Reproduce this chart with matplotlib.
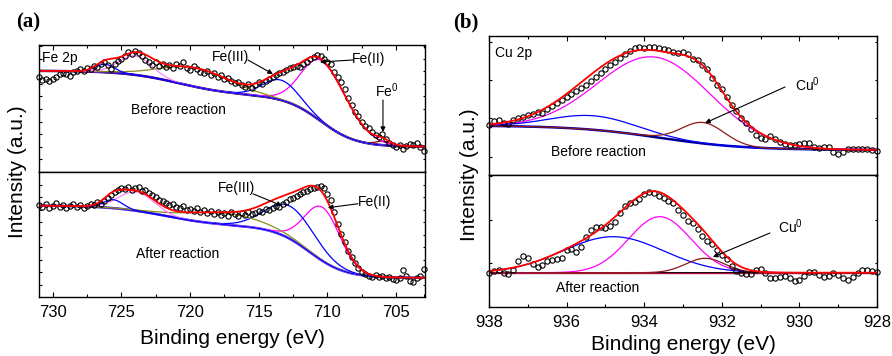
import numpy as np
import matplotlib.pyplot as plt

plt.rcParams['font.family'] = ['Liberation Sans', 'DejaVu Sans']
plt.rcParams['mathtext.default'] = 'regular'

# ---- measured points (arbitrary intensity units) ----
# Fe 2p, sampled every 0.25 eV from 731 eV down to 703 eV
fe_start, fe_step = 731.0, -0.25
fe_before = [95, 92, 93, 91, 93, 95, 98, 99, 98, 96, 100, 101, 103, 101, 104, 103,
             106, 105, 108, 110, 107, 103, 108, 111, 113, 116, 120, 118, 121, 119,
             116, 112, 110, 107, 110, 106, 108, 105, 107, 104, 108, 106, 110, 104,
             102, 106, 103, 100, 99, 101, 97, 99, 95, 97, 93, 94, 91, 89, 90, 87,
             85, 88, 84, 87, 90, 88, 91, 93, 95, 97, 99, 100, 102, 104, 105, 106,
             105, 108, 110, 113, 115, 117, 116, 113, 110, 108, 100, 95, 90, 83, 74,
             67, 60, 56, 50, 46, 44, 40, 37, 35, 38, 33, 29, 27, 25, 27, 23, 26, 28,
             27, 29, 25, 21]
fe_after = [93, 91, 94, 90, 92, 95, 91, 93, 90, 92, 94, 91, 93, 90, 92, 94, 93, 96,
            94, 97, 100, 103, 106, 108, 110, 109, 111, 108, 110, 111, 107, 108, 105,
            103, 101, 98, 97, 95, 93, 94, 91, 90, 92, 88, 89, 87, 90, 86, 88, 85, 87,
            84, 86, 83, 85, 82, 86, 84, 82, 85, 83, 86, 84, 85, 87, 86, 89, 88, 90,
            92, 91, 94, 96, 99, 100, 102, 104, 106, 107, 109, 110, 111, 112, 110, 104,
            98, 86, 74, 64, 55, 46, 40, 34, 29, 25, 23, 21, 20, 22, 20, 21, 19, 20, 18,
            17, 19, 27, 21, 16, 15, 19, 21, 28]

# Cu 2p, sampled every 0.125 eV from 938 eV down to 928 eV
cu_start, cu_step = 938.0, -0.125
cu_before = [50, 54, 55, 52, 51, 55, 57, 58, 60, 61, 63, 62, 66, 69, 72, 75, 78, 81,
             84, 87, 90, 94, 98, 102, 106, 110, 113, 117, 121, 124, 127, 128, 127,
             128, 128, 127, 126, 125, 123, 122, 123, 121, 116, 115, 110, 106, 97, 90,
             86, 78, 70, 64, 57, 52, 46, 40, 37, 36, 39, 36, 33, 31, 30, 30, 31, 32,
             32, 28, 27, 28, 28, 23, 21, 23, 26, 26, 26, 26, 26, 25, 24]
cu_after = [34, 36, 37, 34, 33, 37, 46, 51, 49, 43, 40, 42, 46, 47, 48, 49, 57, 58,
            55, 60, 70, 77, 80, 80, 79, 81, 85, 94, 101, 104, 105, 108, 113, 115, 114,
            111, 109, 106, 104, 97, 92, 86, 84, 78, 71, 66, 63, 57, 52, 48, 41, 36, 34,
            33, 33, 37, 38, 34, 29, 29, 30, 31, 29, 26, 27, 31, 35, 35, 32, 30, 31, 34,
            32, 29, 27, 30, 34, 37, 37, 36, 35]

# ---- fitted backgrounds: base level and steps (height, centre eV, width eV) ----
fe_before_base = 25.3
fe_before_steps = [(51, 710.5, 1.3), (25, 720.8, 2.0)]
fe_after_base = 19.3
fe_after_steps = [(52, 711.3, 1.3), (21, 721.8, 2.0)]
cu_before_base = 25.0
cu_before_steps = [(24.5, 933.6, 1.1)]
cu_after_base = 34.3
cu_after_steps = []

# ---- fitted peaks: centre (eV), height, sigma on low-BE side, sigma on high-BE side ----
fe_before_centres = [706.0, 710.4, 713.4, 719.5, 724.0, 726.2]
fe_before_heights = [4, 61, 20, 19, 19, 8]
fe_before_sig_lo = [0.5, 1.85, 1.3, 2.5, 1.2, 0.7]
fe_before_sig_hi = [0.5, 1.45, 1.3, 2.5, 1.2, 0.7]
fe_before_colors = ['#8b0000', '#ff00ff', '#0000ff', '#8c8c1a', '#ff80ff', '#0000ff']

fe_after_centres = [710.35, 712.7, 717.5, 723.9, 725.6]
fe_after_heights = [54, 33, 11.5, 19, 8.5]
fe_after_sig_lo = [1.3, 1.8, 2.8, 1.3, 0.7]
fe_after_sig_hi = [1.3, 1.8, 2.8, 1.3, 0.7]
fe_after_colors = ['#ff00ff', '#0000ff', '#8c8c1a', '#ff80ff', '#0000ff']

cu_before_centres = [933.7, 935.3, 932.48]
cu_before_heights = [80, 14, 21]
cu_before_sig_lo = [1.45, 1.1, 0.55]
cu_before_sig_hi = [1.45, 1.1, 0.55]
cu_after_centres = [933.6, 934.8, 932.43]
cu_after_heights = [56, 36, 14.4]
cu_after_sig_lo = [0.8, 1.3, 0.5]
cu_after_sig_hi = [0.8, 1.3, 0.5]
cu_colors = ['#ff00ff', '#0000ff', '#8b1a1a']

W, H = 892, 356


def box(left, top, right, bottom):
    return [left / W, 1 - bottom / H, (right - left) / W, (bottom - top) / H]


def background(e, base, steps):
    b = np.full_like(e, base)
    for a, c, w in steps:
        b += a / (1 + np.exp(-(e - c) / w))
    return b


def peak(e, c, h, s_lo, s_hi):
    s = np.where(e < c, s_lo, s_hi)
    return h * np.exp(-(e - c) ** 2 / (2 * s ** 2))


def draw(ax, start, step, pts, base, steps, centres, heights, sig_lo, sig_hi,
         colors, bg_lines, xlim, ylim):
    e = np.linspace(xlim[0], xlim[1], 800)
    bg = background(e, base, steps)
    for col, lw in bg_lines:
        ax.plot(e, bg, color=col, lw=lw)
    total = bg.copy()
    for c, h, sl, sh, col in zip(centres, heights, sig_lo, sig_hi, colors):
        g = peak(e, c, h, sl, sh)
        ax.plot(e, bg + g, color=col, lw=0.9)
        total += g
    x = start + step * np.arange(len(pts))
    ax.plot(x, pts, 'o', mfc='none', mec='black', ms=3.8, mew=0.8, clip_on=False)
    ax.plot(e, total, color='red', lw=1.3)
    ax.set_xlim(*xlim)
    ax.set_ylim(*ylim)


def style(ax, major, minor, yticks, top_panel):
    ax.set_xticks(major)
    ax.set_xticks(minor, minor=True)
    ax.set_yticks(yticks)
    ax.tick_params(which='both', direction='in', labelleft=False,
                   left=True, right=True, top=top_panel, bottom=not top_panel,
                   labelbottom=not top_panel, labelsize=12, pad=5.5)
    ax.tick_params(which='major', length=3.6, width=0.8)
    ax.tick_params(which='minor', length=2.0, width=0.8)
    ax.tick_params(axis='y', length=1.8)
    for sp in ax.spines.values():
        sp.set_linewidth(1.0)


fig = plt.figure(figsize=(W / 100, H / 100), dpi=100)

fe_xlim = (731.0, 702.9)
fe_major = [730, 725, 720, 715, 710, 705]
fe_minor = [727.5, 722.5, 717.5, 712.5, 707.5, 703.0]
fe_yticks = [12.6 * k for k in range(1, 11)]

ax1 = fig.add_axes(box(39, 45, 425, 172))
draw(ax1, fe_start, fe_step, fe_before, fe_before_base, fe_before_steps,
     fe_before_centres, fe_before_heights, fe_before_sig_lo, fe_before_sig_hi,
     fe_before_colors, [('#1a0060', 1.8), ('#7a1030', 1.2)], fe_xlim, (0, 127))
style(ax1, fe_major, fe_minor, fe_yticks, True)

ax2 = fig.add_axes(box(39, 172, 425, 297))
draw(ax2, fe_start, fe_step, fe_after, fe_after_base, fe_after_steps,
     fe_after_centres, fe_after_heights, fe_after_sig_lo, fe_after_sig_hi,
     fe_after_colors, [('#2020d0', 1.8), ('#c080d0', 1.0)], fe_xlim, (0, 125))
style(ax2, fe_major, fe_minor, fe_yticks, False)
ax2.set_xticklabels([str(v) for v in fe_major])

cu_xlim = (938.0, 928.0)
cu_major = [938, 936, 934, 932, 930, 928]
cu_minor = [937, 935, 933, 931, 929]

ax3 = fig.add_axes(box(489, 36, 877, 175))
draw(ax3, cu_start, cu_step, cu_before, cu_before_base, cu_before_steps,
     cu_before_centres, cu_before_heights, cu_before_sig_lo, cu_before_sig_hi,
     cu_colors, [('#0000cc', 1.8), ('#000050', 0.8)], cu_xlim, (0, 139))
style(ax3, cu_major, cu_minor, [18.3, 56.7, 95.1, 133.5], True)

ax4 = fig.add_axes(box(489, 175, 877, 307))
draw(ax4, cu_start, cu_step, cu_after, cu_after_base, cu_after_steps,
     cu_after_centres, cu_after_heights, cu_after_sig_lo, cu_after_sig_hi,
     cu_colors, [('black', 1.4), ('#aa1040', 1.0)], cu_xlim, (0, 132))
style(ax4, cu_major, cu_minor, [0.5, 44, 87.5, 131], False)
ax4.set_xticklabels([str(v) for v in cu_major])

# ---- annotations ----
arrow = dict(arrowstyle='-|>', color='black', lw=0.8, mutation_scale=7,
             shrinkA=0, shrinkB=0)
fs = 10

ax1.text(730.78, 114.5, 'Fe 2p', fontsize=fs, ha='left', va='center')
ax1.text(720.88, 62, 'Before reaction', fontsize=fs, ha='center', va='center')
ax1.text(717.03, 115, 'Fe(III)', fontsize=fs, ha='center', va='center')
ax1.annotate('', xy=(713.97, 98), xytext=(715.79, 112), arrowprops=arrow)
ax1.text(706.98, 113, 'Fe(II)', fontsize=fs, ha='center', va='center')
ax1.annotate('', xy=(710.55, 110), xytext=(708.15, 112), arrowprops=arrow)
ax1.text(705.67, 81, 'Fe$^0$', fontsize=fs, ha='center', va='center')
ax1.annotate('', xy=(705.96, 40), xytext=(705.96, 72), arrowprops=arrow)

ax2.text(716.59, 110, 'Fe(III)', fontsize=fs, ha='center', va='center')
ax2.annotate('', xy=(713.31, 92), xytext=(715.42, 104), arrowprops=arrow)
ax2.text(706.55, 96, 'Fe(II)', fontsize=fs, ha='center', va='center')
ax2.annotate('', xy=(709.97, 90), xytext=(707.78, 94), arrowprops=arrow)
ax2.text(720.88, 43, 'After reaction', fontsize=fs, ha='center', va='center')

ax3.text(937.85, 122, 'Cu 2p', fontsize=fs, ha='left', va='center')
ax3.text(929.8, 90, 'Cu$^0$', fontsize=fs, ha='center', va='center')
ax3.annotate('', xy=(932.43, 52), xytext=(930.37, 88), arrowprops=arrow)
ax3.text(935.19, 23, 'Before reaction', fontsize=fs, ha='center', va='center')

ax4.text(930.24, 80, 'Cu$^0$', fontsize=fs, ha='center', va='center')
ax4.annotate('', xy=(932.23, 50), xytext=(930.76, 74), arrowprops=arrow)
ax4.text(935.19, 19, 'After reaction', fontsize=fs, ha='center', va='center')

# panel letters and axis titles
fig.text(28 / W, 1 - 22 / H, '(a)', fontsize=15, fontweight='bold',
         family='Liberation Serif', ha='center', va='center')
fig.text(466 / W, 1 - 22 / H, '(b)', fontsize=15, fontweight='bold',
         family='Liberation Serif', ha='center', va='center')
fig.text(17.5 / W, 1 - 172 / H, 'Intensity (a.u.)', fontsize=15, rotation=90,
         ha='center', va='center')
fig.text(469.5 / W, 1 - 175 / H, 'Intensity (a.u.)', fontsize=15, rotation=90,
         ha='center', va='center')
fig.text(232 / W, 1 - 338 / H, 'Binding energy (eV)', fontsize=15,
         ha='center', va='center')
fig.text(683 / W, 1 - 345 / H, 'Binding energy (eV)', fontsize=15,
         ha='center', va='center')

fig.savefig('out.png', dpi=100)
